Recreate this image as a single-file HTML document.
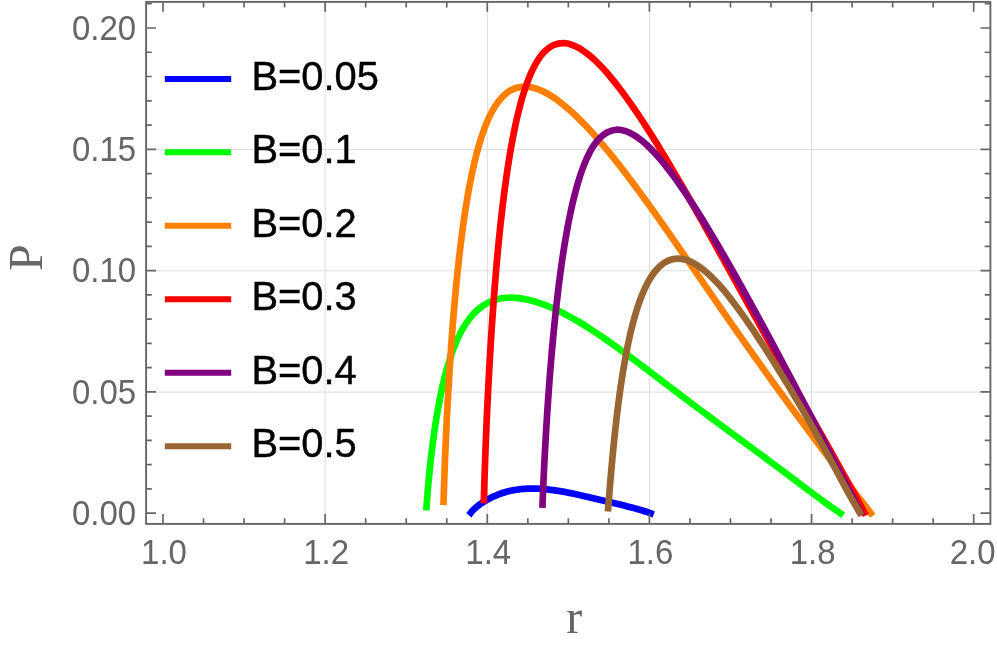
<!DOCTYPE html>
<html><head><meta charset="utf-8"><title>P(r)</title>
<style>html,body{margin:0;padding:0;background:#fff}body{width:997px;height:645px;overflow:hidden}svg{display:block;will-change:transform}.s{font-family:"Liberation Sans",sans-serif}.f{font-family:"Liberation Serif",serif}</style></head><body>
<svg width="997" height="645" viewBox="0 0 997 645">
<rect width="997" height="645" fill="#fff"/>
<g stroke="#dcdcdc" stroke-width="1" fill="none">
<path d="M325.14 1.90V523.90"/>
<path d="M487.28 1.90V523.90"/>
<path d="M649.42 1.90V523.90"/>
<path d="M811.56 1.90V523.90"/>
<path d="M146.10 392.10H990.40"/>
<path d="M146.10 270.80H990.40"/>
<path d="M146.10 149.50H990.40"/>
</g>
<g fill="none" stroke-width="6.70" stroke-linejoin="round" stroke-linecap="butt">
<path stroke="#0000ff" d="M468.77 515.30C469.25 514.75 469.76 514.22 470.21 513.64C470.66 513.06 471.01 512.41 471.46 511.84C471.92 511.27 472.42 510.73 472.92 510.20C473.43 509.67 473.97 509.16 474.51 508.67C475.05 508.17 475.60 507.69 476.16 507.22C476.72 506.75 477.30 506.29 477.88 505.84C478.45 505.39 479.04 504.95 479.64 504.52C480.23 504.09 480.83 503.67 481.44 503.26C482.04 502.85 482.66 502.44 483.28 502.05C483.89 501.65 484.52 501.27 485.15 500.89C485.78 500.51 486.41 500.14 487.05 499.78C487.69 499.42 488.33 499.07 488.98 498.73C489.63 498.39 490.28 498.05 490.94 497.73C491.59 497.40 492.26 497.08 492.92 496.78C493.59 496.47 494.26 496.17 494.93 495.88C495.60 495.58 496.28 495.30 496.96 495.03C497.64 494.75 498.32 494.49 499.01 494.23C499.70 493.98 500.39 493.73 501.08 493.49C501.77 493.25 502.47 493.02 503.17 492.80C503.87 492.58 504.57 492.37 505.28 492.17C505.98 491.96 506.69 491.77 507.40 491.59C508.11 491.40 508.82 491.22 509.53 491.06C510.25 490.89 510.96 490.73 511.68 490.58C512.40 490.43 513.12 490.29 513.84 490.16C514.56 490.02 515.29 489.90 516.01 489.79C516.73 489.67 517.46 489.56 518.19 489.47C518.91 489.37 519.64 489.28 520.37 489.19C521.10 489.11 521.83 489.04 522.56 488.97C523.29 488.91 524.02 488.85 524.75 488.80C525.48 488.75 526.22 488.71 526.95 488.67C527.68 488.64 528.41 488.61 529.15 488.59C529.88 488.57 530.61 488.55 531.35 488.55C532.08 488.54 532.81 488.54 533.55 488.55C534.28 488.55 535.01 488.57 535.75 488.59C536.48 488.61 537.21 488.63 537.95 488.67C538.68 488.70 539.41 488.74 540.14 488.78C540.88 488.82 541.61 488.87 542.34 488.93C543.07 488.98 543.80 489.04 544.53 489.11C545.26 489.17 545.99 489.24 546.72 489.32C547.45 489.39 548.18 489.47 548.91 489.55C549.64 489.64 550.37 489.73 551.09 489.82C551.82 489.91 552.55 490.01 553.27 490.11C554.00 490.21 554.73 490.31 555.45 490.42C556.18 490.53 556.90 490.64 557.63 490.76C558.35 490.87 559.07 490.99 559.80 491.11C560.52 491.23 561.24 491.36 561.97 491.48C562.69 491.61 563.41 491.74 564.13 491.87C564.85 492.01 565.57 492.14 566.29 492.28C567.01 492.41 567.73 492.55 568.45 492.70C569.17 492.84 569.89 492.98 570.61 493.13C571.33 493.27 572.05 493.42 572.77 493.57C573.48 493.72 574.20 493.87 574.92 494.02C575.64 494.17 576.35 494.33 577.07 494.48C577.79 494.64 578.50 494.79 579.22 494.95C579.94 495.11 580.65 495.27 581.37 495.43C582.08 495.59 582.80 495.75 583.52 495.91C584.23 496.07 584.95 496.24 585.66 496.40C586.38 496.56 587.09 496.73 587.81 496.89C588.52 497.06 589.23 497.22 589.95 497.39C590.66 497.55 591.38 497.72 592.09 497.89C592.81 498.05 593.52 498.22 594.23 498.39C594.95 498.55 595.66 498.72 596.38 498.89C597.09 499.06 597.80 499.23 598.52 499.40C599.23 499.56 599.94 499.73 600.66 499.90C601.37 500.07 602.09 500.24 602.80 500.41C603.51 500.58 604.23 500.75 604.94 500.92C605.65 501.09 606.37 501.26 607.08 501.43C607.79 501.60 608.51 501.77 609.22 501.94C609.93 502.11 610.65 502.29 611.36 502.46C612.07 502.63 612.78 502.80 613.50 502.97C614.21 503.14 614.92 503.32 615.64 503.49C616.35 503.66 617.06 503.84 617.77 504.01C618.49 504.18 619.20 504.36 619.91 504.53C620.62 504.71 621.33 504.88 622.05 505.06C622.76 505.24 623.47 505.42 624.18 505.59C624.89 505.77 625.60 505.95 626.31 506.13C627.03 506.31 627.74 506.49 628.45 506.68C629.16 506.86 629.87 507.05 630.58 507.23C631.28 507.42 631.99 507.60 632.70 507.79C633.41 507.98 634.12 508.17 634.83 508.37C635.53 508.56 636.24 508.76 636.95 508.95C637.65 509.15 638.36 509.35 639.06 509.55C639.77 509.76 640.47 509.96 641.18 510.17C641.88 510.38 642.58 510.59 643.28 510.80C643.98 511.02 644.69 511.23 645.38 511.45C646.08 511.68 646.78 511.90 647.48 512.13C648.18 512.36 648.87 512.59 649.57 512.82C650.26 513.06 650.95 513.30 651.64 513.55C652.34 513.79 653.02 514.05 653.71 514.30"/>
<path stroke="#00ff00" d="M426.31 510.39C426.47 507.97 426.62 505.55 426.79 503.13C426.96 500.71 427.15 498.29 427.34 495.88C427.53 493.46 427.72 491.04 427.93 488.63C428.13 486.21 428.35 483.79 428.57 481.38C428.79 478.97 429.02 476.55 429.26 474.14C429.49 471.72 429.74 469.31 429.99 466.90C430.24 464.49 430.50 462.08 430.77 459.67C431.04 457.26 431.32 454.85 431.61 452.44C431.90 450.03 432.19 447.63 432.50 445.22C432.81 442.82 433.12 440.41 433.45 438.01C433.78 435.61 434.11 433.20 434.46 430.80C434.81 428.40 435.17 426.01 435.54 423.61C435.91 421.21 436.29 418.82 436.69 416.43C437.08 414.03 437.49 411.64 437.92 409.26C438.34 406.87 438.78 404.48 439.24 402.10C439.69 399.72 440.16 397.34 440.65 394.97C441.14 392.59 441.65 390.22 442.18 387.85C442.70 385.49 443.25 383.12 443.82 380.77C444.39 378.41 444.98 376.06 445.60 373.71C446.22 371.37 446.86 369.03 447.54 366.70C448.21 364.37 448.91 362.05 449.65 359.74C450.39 357.43 451.16 355.13 451.97 352.85C452.79 350.56 453.63 348.29 454.53 346.04C455.43 343.79 456.37 341.55 457.38 339.34C458.38 337.13 459.43 334.94 460.55 332.80C461.67 330.65 462.85 328.52 464.12 326.46C465.39 324.39 466.72 322.36 468.15 320.41C469.59 318.45 471.10 316.54 472.72 314.75C474.35 312.96 476.07 311.23 477.90 309.65C479.73 308.07 481.67 306.58 483.71 305.27C485.74 303.97 487.89 302.79 490.10 301.81C492.30 300.83 494.62 300.02 496.95 299.39C499.28 298.76 501.69 298.32 504.09 298.02C506.49 297.73 508.93 297.62 511.35 297.63C513.77 297.64 516.20 297.81 518.61 298.07C521.01 298.33 523.41 298.73 525.79 299.20C528.17 299.67 530.53 300.26 532.86 300.90C535.20 301.54 537.52 302.27 539.81 303.05C542.10 303.83 544.38 304.69 546.63 305.58C548.88 306.48 551.11 307.43 553.33 308.42C555.54 309.41 557.73 310.45 559.91 311.52C562.08 312.59 564.24 313.71 566.38 314.84C568.52 315.98 570.65 317.15 572.76 318.34C574.87 319.54 576.96 320.76 579.04 322.00C581.13 323.25 583.20 324.51 585.25 325.80C587.31 327.08 589.35 328.38 591.39 329.70C593.43 331.02 595.45 332.36 597.47 333.70C599.48 335.05 601.49 336.41 603.48 337.79C605.48 339.16 607.47 340.55 609.46 341.94C611.44 343.34 613.42 344.74 615.39 346.16C617.36 347.57 619.32 348.99 621.28 350.42C623.24 351.84 625.20 353.28 627.15 354.72C629.10 356.16 631.05 357.60 632.99 359.05C634.94 360.50 636.88 361.96 638.82 363.41C640.76 364.87 642.69 366.33 644.63 367.79C646.56 369.25 648.50 370.72 650.43 372.18C652.36 373.65 654.29 375.11 656.22 376.58C658.15 378.05 660.08 379.51 662.01 380.98C663.94 382.45 665.87 383.92 667.80 385.39C669.74 386.85 671.67 388.32 673.60 389.79C675.53 391.25 677.46 392.72 679.40 394.18C681.33 395.64 683.26 397.11 685.20 398.57C687.13 400.03 689.07 401.49 691.01 402.95C692.95 404.40 694.89 405.86 696.83 407.31C698.77 408.77 700.71 410.22 702.65 411.67C704.60 413.12 706.54 414.57 708.49 416.02C710.43 417.46 712.38 418.91 714.33 420.35C716.27 421.80 718.22 423.24 720.17 424.68C722.12 426.12 724.07 427.56 726.03 429.00C727.98 430.44 729.93 431.88 731.88 433.32C733.83 434.76 735.79 436.20 737.74 437.63C739.69 439.07 741.65 440.51 743.60 441.95C745.55 443.38 747.50 444.82 749.46 446.26C751.41 447.70 753.36 449.14 755.31 450.58C757.26 452.02 759.21 453.46 761.16 454.90C763.11 456.34 765.06 457.79 767.01 459.23C768.96 460.68 770.90 462.12 772.85 463.57C774.79 465.02 776.74 466.47 778.68 467.92C780.62 469.37 782.56 470.82 784.51 472.28C786.45 473.73 788.39 475.18 790.33 476.64C792.27 478.09 794.20 479.55 796.14 481.01C798.08 482.46 800.02 483.92 801.96 485.38C803.90 486.83 805.84 488.29 807.78 489.74C809.72 491.19 811.67 492.64 813.61 494.09C815.56 495.54 817.51 496.98 819.46 498.42C821.41 499.86 823.37 501.29 825.33 502.71C827.30 504.13 829.26 505.55 831.24 506.95C833.22 508.35 835.21 509.75 837.20 511.12C839.20 512.49 841.23 513.83 843.24 515.19"/>
<path stroke="#ff8000" d="M443.46 505.17C443.57 501.42 443.67 497.68 443.78 493.93C443.90 490.18 444.02 486.44 444.15 482.69C444.27 478.95 444.41 475.20 444.54 471.46C444.68 467.71 444.83 463.97 444.97 460.22C445.12 456.48 445.28 452.74 445.43 448.99C445.59 445.25 445.76 441.50 445.93 437.76C446.10 434.02 446.27 430.27 446.45 426.53C446.63 422.79 446.81 419.04 447.00 415.30C447.19 411.56 447.39 407.82 447.59 404.07C447.79 400.33 448.00 396.59 448.21 392.85C448.42 389.11 448.64 385.37 448.86 381.62C449.08 377.88 449.31 374.14 449.55 370.40C449.79 366.66 450.03 362.92 450.28 359.18C450.53 355.45 450.78 351.71 451.05 347.97C451.31 344.23 451.58 340.49 451.86 336.76C452.13 333.02 452.42 329.28 452.71 325.55C453.01 321.81 453.31 318.07 453.62 314.34C453.93 310.60 454.25 306.87 454.57 303.14C454.90 299.40 455.24 295.67 455.59 291.94C455.94 288.21 456.29 284.48 456.66 280.75C457.03 277.02 457.41 273.29 457.81 269.57C458.20 265.84 458.61 262.11 459.03 258.39C459.45 254.67 459.88 250.94 460.33 247.22C460.77 243.50 461.24 239.78 461.72 236.07C462.20 232.35 462.70 228.64 463.21 224.92C463.73 221.21 464.26 217.50 464.82 213.80C465.38 210.09 465.96 206.39 466.57 202.69C467.17 198.99 467.80 195.30 468.46 191.61C469.13 187.92 469.81 184.24 470.54 180.56C471.27 176.89 472.02 173.21 472.83 169.56C473.63 165.90 474.47 162.24 475.37 158.60C476.27 154.97 477.21 151.34 478.23 147.73C479.25 144.13 480.31 140.53 481.48 136.97C482.65 133.41 483.88 129.86 485.25 126.38C486.62 122.89 488.06 119.42 489.70 116.06C491.35 112.70 493.09 109.35 495.13 106.22C497.17 103.10 499.35 99.96 501.94 97.30C504.53 94.65 507.45 92.04 510.68 90.29C513.90 88.54 517.66 87.27 521.29 86.81C524.92 86.35 528.83 86.80 532.45 87.55C536.07 88.31 539.62 89.79 543.01 91.35C546.40 92.91 549.63 94.89 552.77 96.91C555.91 98.94 558.92 101.21 561.86 103.52C564.81 105.83 567.65 108.29 570.44 110.78C573.23 113.28 575.94 115.87 578.62 118.50C581.29 121.12 583.90 123.82 586.47 126.54C589.05 129.26 591.57 132.03 594.07 134.82C596.57 137.62 599.02 140.45 601.45 143.30C603.89 146.15 606.28 149.03 608.66 151.93C611.04 154.83 613.38 157.75 615.72 160.68C618.05 163.62 620.35 166.57 622.65 169.54C624.94 172.50 627.21 175.48 629.47 178.47C631.72 181.46 633.97 184.47 636.20 187.48C638.43 190.49 640.64 193.51 642.85 196.54C645.05 199.57 647.25 202.61 649.43 205.65C651.62 208.70 653.79 211.75 655.96 214.80C658.13 217.86 660.29 220.92 662.45 223.99C664.61 227.05 666.75 230.12 668.90 233.20C671.04 236.27 673.18 239.35 675.32 242.42C677.46 245.50 679.59 248.58 681.72 251.67C683.85 254.75 685.98 257.84 688.10 260.92C690.23 264.01 692.35 267.09 694.48 270.18C696.60 273.27 698.73 276.36 700.85 279.44C702.98 282.53 705.10 285.62 707.23 288.70C709.35 291.79 711.48 294.88 713.61 297.96C715.73 301.04 717.86 304.13 720.00 307.21C722.13 310.29 724.26 313.37 726.40 316.45C728.54 319.53 730.68 322.60 732.82 325.68C734.97 328.75 737.11 331.82 739.27 334.89C741.42 337.96 743.57 341.03 745.73 344.09C747.89 347.15 750.05 350.21 752.22 353.27C754.38 356.33 756.55 359.38 758.73 362.43C760.90 365.49 763.08 368.53 765.27 371.58C767.45 374.63 769.64 377.67 771.83 380.71C774.02 383.75 776.22 386.78 778.42 389.82C780.62 392.85 782.83 395.88 785.04 398.91C787.24 401.93 789.46 404.96 791.67 407.98C793.89 411.00 796.11 414.02 798.34 417.04C800.56 420.05 802.79 423.06 805.02 426.08C807.25 429.09 809.49 432.10 811.72 435.10C813.96 438.11 816.20 441.11 818.44 444.11C820.69 447.12 822.93 450.11 825.18 453.11C827.43 456.11 829.68 459.11 831.94 462.10C834.19 465.09 836.45 468.09 838.71 471.08C840.97 474.07 843.23 477.05 845.49 480.04C847.76 483.03 850.02 486.01 852.29 488.99C854.56 491.97 856.84 494.95 859.11 497.93C861.39 500.90 863.67 503.88 865.96 506.85C868.24 509.82 870.54 512.78 872.83 515.75"/>
<path stroke="#ff0000" d="M483.82 503.29C483.92 499.36 484.02 495.44 484.13 491.51C484.24 487.59 484.35 483.66 484.48 479.74C484.60 475.81 484.73 471.89 484.86 467.96C484.99 464.04 485.13 460.11 485.27 456.19C485.42 452.26 485.56 448.34 485.72 444.42C485.87 440.49 486.03 436.57 486.19 432.65C486.35 428.72 486.52 424.80 486.69 420.88C486.86 416.95 487.04 413.03 487.22 409.11C487.40 405.18 487.59 401.26 487.78 397.34C487.97 393.42 488.17 389.50 488.37 385.57C488.57 381.65 488.78 377.73 488.99 373.81C489.21 369.89 489.42 365.97 489.65 362.05C489.87 358.13 490.10 354.21 490.34 350.29C490.57 346.37 490.81 342.45 491.06 338.53C491.31 334.61 491.56 330.69 491.82 326.77C492.09 322.86 492.35 318.94 492.63 315.02C492.90 311.10 493.18 307.19 493.47 303.27C493.76 299.35 494.06 295.44 494.36 291.52C494.67 287.61 494.98 283.69 495.30 279.78C495.62 275.87 495.95 271.95 496.29 268.04C496.63 264.13 496.98 260.22 497.33 256.31C497.69 252.40 498.06 248.49 498.44 244.58C498.82 240.67 499.21 236.76 499.62 232.86C500.02 228.95 500.43 225.05 500.86 221.14C501.29 217.24 501.73 213.34 502.19 209.44C502.65 205.54 503.12 201.64 503.61 197.74C504.10 193.85 504.60 189.95 505.12 186.06C505.65 182.17 506.19 178.28 506.76 174.39C507.32 170.51 507.91 166.62 508.52 162.74C509.13 158.87 509.76 154.99 510.43 151.12C511.09 147.25 511.78 143.38 512.51 139.53C513.24 135.67 514.00 131.81 514.80 127.97C515.61 124.13 516.45 120.29 517.35 116.47C518.24 112.64 519.18 108.83 520.20 105.04C521.21 101.24 522.27 97.46 523.44 93.71C524.60 89.96 525.82 86.23 527.19 82.55C528.57 78.87 530.00 75.20 531.66 71.65C533.32 68.10 535.06 64.54 537.17 61.24C539.27 57.95 541.50 54.58 544.27 51.87C547.03 49.17 550.25 46.44 553.75 45.01C557.25 43.58 561.49 42.99 565.27 43.28C569.06 43.56 572.94 45.12 576.46 46.74C579.99 48.36 583.26 50.70 586.41 53.02C589.56 55.34 592.49 58.00 595.35 60.68C598.22 63.36 600.93 66.22 603.59 69.10C606.25 71.99 608.80 74.98 611.31 78.00C613.82 81.02 616.25 84.10 618.65 87.21C621.05 90.32 623.38 93.48 625.69 96.65C628.00 99.83 630.27 103.04 632.50 106.26C634.74 109.49 636.94 112.74 639.12 116.01C641.30 119.27 643.45 122.56 645.59 125.86C647.72 129.16 649.83 132.47 651.92 135.79C654.01 139.12 656.08 142.45 658.14 145.80C660.20 149.14 662.24 152.50 664.27 155.86C666.30 159.22 668.31 162.59 670.31 165.97C672.32 169.34 674.31 172.73 676.29 176.12C678.28 179.51 680.25 182.90 682.22 186.30C684.18 189.70 686.14 193.11 688.09 196.51C690.04 199.92 691.98 203.33 693.92 206.75C695.86 210.17 697.79 213.58 699.72 217.01C701.65 220.43 703.57 223.85 705.49 227.28C707.41 230.70 709.32 234.13 711.23 237.56C713.15 240.99 715.05 244.42 716.96 247.85C718.87 251.29 720.77 254.72 722.68 258.16C724.58 261.59 726.48 265.03 728.38 268.46C730.29 271.90 732.18 275.33 734.09 278.77C735.99 282.21 737.88 285.64 739.78 289.08C741.69 292.52 743.59 295.95 745.49 299.39C747.39 302.83 749.29 306.26 751.19 309.70C753.09 313.13 755.00 316.57 756.90 320.00C758.81 323.43 760.71 326.87 762.62 330.30C764.53 333.73 766.44 337.16 768.35 340.59C770.26 344.02 772.18 347.45 774.09 350.88C776.01 354.31 777.93 357.73 779.85 361.16C781.77 364.59 783.69 368.01 785.61 371.43C787.53 374.86 789.46 378.28 791.38 381.70C793.31 385.12 795.24 388.54 797.17 391.97C799.10 395.39 801.03 398.80 802.96 402.22C804.89 405.64 806.83 409.06 808.76 412.48C810.69 415.90 812.63 419.31 814.56 422.73C816.49 426.15 818.42 429.57 820.36 432.99C822.29 436.41 824.22 439.83 826.15 443.25C828.07 446.67 830.00 450.09 831.93 453.51C833.85 456.94 835.77 460.36 837.68 463.79C839.60 467.22 841.51 470.65 843.42 474.08C845.33 477.51 847.23 480.95 849.12 484.39C851.01 487.83 852.90 491.27 854.78 494.72C856.66 498.17 858.53 501.62 860.39 505.08C862.25 508.54 864.09 512.01 865.95 515.47"/>
<path stroke="#800080" d="M542.42 507.78C542.53 504.56 542.64 501.34 542.77 498.11C542.89 494.89 543.03 491.67 543.16 488.45C543.30 485.23 543.44 482.00 543.59 478.78C543.73 475.56 543.88 472.34 544.04 469.12C544.20 465.90 544.36 462.68 544.52 459.46C544.69 456.24 544.86 453.02 545.03 449.80C545.21 446.58 545.38 443.36 545.57 440.14C545.75 436.92 545.94 433.70 546.13 430.48C546.32 427.26 546.52 424.04 546.72 420.82C546.92 417.60 547.13 414.38 547.34 411.17C547.55 407.95 547.77 404.73 547.99 401.51C548.21 398.30 548.44 395.08 548.67 391.86C548.90 388.65 549.14 385.43 549.38 382.22C549.62 379.00 549.87 375.79 550.12 372.57C550.38 369.36 550.64 366.14 550.90 362.93C551.17 359.71 551.44 356.50 551.72 353.29C552.00 350.07 552.28 346.86 552.57 343.65C552.87 340.44 553.17 337.23 553.47 334.02C553.78 330.81 554.09 327.60 554.41 324.39C554.74 321.18 555.07 317.97 555.40 314.77C555.74 311.56 556.09 308.35 556.45 305.15C556.80 301.94 557.17 298.74 557.55 295.54C557.92 292.33 558.31 289.13 558.71 285.93C559.10 282.73 559.51 279.53 559.93 276.34C560.35 273.14 560.79 269.94 561.23 266.75C561.68 263.56 562.14 260.36 562.61 257.17C563.09 253.99 563.58 250.80 564.09 247.61C564.60 244.43 565.12 241.25 565.66 238.07C566.21 234.89 566.77 231.71 567.35 228.54C567.94 225.37 568.55 222.20 569.18 219.04C569.81 215.88 570.47 212.72 571.16 209.57C571.85 206.42 572.56 203.28 573.32 200.14C574.08 197.01 574.86 193.88 575.70 190.77C576.54 187.65 577.41 184.55 578.34 181.46C579.28 178.38 580.26 175.30 581.32 172.26C582.38 169.21 583.50 166.18 584.72 163.20C585.95 160.22 587.24 157.26 588.70 154.39C590.16 151.51 591.69 148.65 593.48 145.98C595.26 143.31 597.16 140.62 599.41 138.36C601.66 136.10 604.19 133.84 606.99 132.41C609.79 130.98 613.09 129.97 616.21 129.76C619.34 129.55 622.69 130.24 625.73 131.17C628.77 132.10 631.67 133.71 634.43 135.34C637.19 136.98 639.76 138.98 642.27 141.00C644.77 143.03 647.13 145.24 649.44 147.49C651.75 149.74 653.96 152.10 656.13 154.48C658.29 156.87 660.38 159.33 662.44 161.81C664.50 164.29 666.50 166.82 668.47 169.37C670.45 171.92 672.38 174.51 674.28 177.11C676.18 179.71 678.05 182.34 679.90 184.98C681.75 187.62 683.57 190.29 685.37 192.96C687.17 195.64 688.95 198.33 690.71 201.03C692.48 203.73 694.22 206.44 695.95 209.16C697.68 211.88 699.39 214.62 701.09 217.35C702.80 220.09 704.48 222.84 706.16 225.60C707.84 228.35 709.50 231.11 711.15 233.88C712.81 236.65 714.45 239.42 716.09 242.20C717.72 244.98 719.35 247.77 720.97 250.56C722.59 253.34 724.20 256.14 725.81 258.94C727.41 261.73 729.01 264.53 730.60 267.34C732.19 270.14 733.78 272.95 735.36 275.76C736.94 278.57 738.51 281.39 740.08 284.21C741.65 287.02 743.21 289.84 744.77 292.66C746.33 295.49 747.89 298.31 749.44 301.14C750.99 303.96 752.54 306.79 754.09 309.62C755.63 312.46 757.17 315.29 758.71 318.12C760.25 320.96 761.78 323.79 763.31 326.63C764.84 329.47 766.37 332.31 767.90 335.15C769.42 337.99 770.95 340.83 772.47 343.68C773.99 346.52 775.51 349.36 777.03 352.21C778.54 355.06 780.06 357.90 781.57 360.75C783.08 363.60 784.59 366.45 786.10 369.30C787.61 372.15 789.12 375.00 790.62 377.85C792.13 380.70 793.63 383.56 795.13 386.41C796.63 389.27 798.13 392.12 799.63 394.98C801.13 397.83 802.63 400.69 804.12 403.54C805.62 406.40 807.11 409.26 808.61 412.12C810.10 414.97 811.59 417.83 813.08 420.69C814.57 423.55 816.06 426.41 817.55 429.27C819.04 432.14 820.52 435.00 822.01 437.86C823.49 440.72 824.98 443.58 826.46 446.45C827.95 449.31 829.43 452.17 830.91 455.04C832.39 457.90 833.87 460.77 835.35 463.63C836.83 466.50 838.31 469.37 839.78 472.23C841.26 475.10 842.74 477.97 844.21 480.83C845.68 483.70 847.16 486.57 848.63 489.44C850.10 492.31 851.58 495.18 853.05 498.05C854.52 500.92 855.99 503.79 857.46 506.66C858.93 509.53 860.39 512.40 861.86 515.27"/>
<path stroke="#996633" d="M607.90 511.60C608.08 509.38 608.26 507.15 608.44 504.93C608.62 502.71 608.79 500.49 608.97 498.26C609.14 496.04 609.32 493.82 609.50 491.60C609.68 489.37 609.86 487.15 610.04 484.93C610.23 482.71 610.41 480.48 610.60 478.26C610.79 476.04 610.98 473.82 611.18 471.60C611.37 469.38 611.57 467.16 611.77 464.94C611.97 462.71 612.18 460.49 612.38 458.27C612.59 456.05 612.80 453.84 613.02 451.62C613.23 449.40 613.45 447.18 613.67 444.96C613.90 442.74 614.12 440.52 614.35 438.30C614.59 436.09 614.82 433.87 615.06 431.65C615.30 429.44 615.55 427.22 615.80 425.00C616.05 422.79 616.30 420.57 616.56 418.36C616.82 416.14 617.08 413.93 617.35 411.72C617.63 409.50 617.90 407.29 618.18 405.08C618.47 402.87 618.75 400.66 619.05 398.45C619.35 396.24 619.65 394.03 619.96 391.82C620.26 389.61 620.58 387.40 620.90 385.20C621.23 382.99 621.56 380.79 621.90 378.58C622.24 376.38 622.59 374.18 622.94 371.98C623.30 369.78 623.67 367.58 624.04 365.38C624.42 363.18 624.81 360.99 625.21 358.79C625.60 356.60 626.01 354.41 626.43 352.22C626.86 350.03 627.29 347.84 627.74 345.66C628.18 343.47 628.64 341.29 629.12 339.11C629.60 336.93 630.09 334.76 630.60 332.59C631.11 330.42 631.64 328.25 632.19 326.09C632.73 323.93 633.30 321.77 633.89 319.62C634.48 317.47 635.09 315.33 635.73 313.19C636.37 311.06 637.03 308.93 637.73 306.81C638.43 304.69 639.15 302.58 639.92 300.49C640.69 298.40 641.48 296.31 642.33 294.25C643.18 292.19 644.07 290.14 645.01 288.12C645.96 286.11 646.95 284.10 648.03 282.15C649.10 280.20 650.22 278.26 651.45 276.40C652.67 274.55 653.97 272.71 655.39 271.00C656.81 269.29 658.32 267.62 659.97 266.14C661.63 264.67 663.42 263.26 665.33 262.16C667.25 261.06 669.34 260.11 671.46 259.53C673.59 258.95 675.87 258.66 678.07 258.66C680.28 258.67 682.54 259.03 684.69 259.56C686.83 260.09 688.94 260.92 690.97 261.83C692.99 262.75 694.94 263.87 696.83 265.05C698.71 266.23 700.53 267.54 702.30 268.90C704.06 270.25 705.77 271.70 707.43 273.18C709.10 274.65 710.72 276.20 712.30 277.76C713.89 279.33 715.43 280.94 716.95 282.57C718.47 284.21 719.95 285.87 721.41 287.55C722.88 289.24 724.31 290.94 725.73 292.67C727.15 294.39 728.54 296.13 729.92 297.88C731.30 299.63 732.65 301.40 734.00 303.18C735.35 304.95 736.68 306.75 738.00 308.54C739.32 310.34 740.62 312.15 741.92 313.96C743.21 315.78 744.50 317.60 745.77 319.43C747.05 321.26 748.31 323.09 749.57 324.93C750.83 326.77 752.08 328.62 753.32 330.47C754.57 332.32 755.80 334.18 757.03 336.04C758.26 337.90 759.49 339.76 760.71 341.63C761.93 343.49 763.14 345.36 764.35 347.24C765.56 349.11 766.76 350.99 767.96 352.87C769.16 354.75 770.35 356.63 771.55 358.52C772.74 360.40 773.92 362.29 775.10 364.18C776.29 366.07 777.46 367.96 778.64 369.86C779.81 371.75 780.98 373.65 782.15 375.55C783.32 377.45 784.48 379.36 785.64 381.26C786.79 383.17 787.95 385.07 789.10 386.98C790.25 388.89 791.40 390.80 792.54 392.72C793.68 394.63 794.82 396.55 795.96 398.47C797.09 400.39 798.22 402.31 799.35 404.23C800.48 406.16 801.60 408.08 802.72 410.01C803.84 411.94 804.95 413.87 806.06 415.81C807.17 417.74 808.28 419.68 809.38 421.62C810.48 423.55 811.58 425.49 812.67 427.44C813.77 429.38 814.86 431.32 815.94 433.27C817.03 435.22 818.11 437.17 819.19 439.12C820.27 441.07 821.35 443.02 822.42 444.98C823.49 446.93 824.56 448.89 825.63 450.85C826.70 452.80 827.76 454.76 828.82 456.72C829.89 458.68 830.95 460.65 832.00 462.61C833.06 464.57 834.12 466.53 835.18 468.50C836.24 470.46 837.29 472.42 838.35 474.39C839.41 476.35 840.46 478.31 841.52 480.27C842.59 482.23 843.65 484.20 844.71 486.15C845.78 488.11 846.85 490.07 847.92 492.02C849.00 493.97 850.08 495.93 851.17 497.87C852.26 499.82 853.35 501.76 854.47 503.69C855.58 505.62 856.69 507.55 857.83 509.47C858.97 511.39 860.14 513.28 861.30 515.19"/>
</g>
<g stroke="#666666" fill="none">
<rect x="146.10" y="1.90" width="844.30" height="522.00" stroke-width="1.9"/>
<path d="M163.00 523.90v-9.90M163.00 1.90v9.90M203.54 523.90v-5.70M203.54 1.90v5.70M244.07 523.90v-5.70M244.07 1.90v5.70M284.60 523.90v-5.70M284.60 1.90v5.70M325.14 523.90v-9.90M325.14 1.90v9.90M365.68 523.90v-5.70M365.68 1.90v5.70M406.21 523.90v-5.70M406.21 1.90v5.70M446.75 523.90v-5.70M446.75 1.90v5.70M487.28 523.90v-9.90M487.28 1.90v9.90M527.82 523.90v-5.70M527.82 1.90v5.70M568.35 523.90v-5.70M568.35 1.90v5.70M608.88 523.90v-5.70M608.88 1.90v5.70M649.42 523.90v-9.90M649.42 1.90v9.90M689.95 523.90v-5.70M689.95 1.90v5.70M730.49 523.90v-5.70M730.49 1.90v5.70M771.03 523.90v-5.70M771.03 1.90v5.70M811.56 523.90v-9.90M811.56 1.90v9.90M852.10 523.90v-5.70M852.10 1.90v5.70M892.63 523.90v-5.70M892.63 1.90v5.70M933.17 523.90v-5.70M933.17 1.90v5.70M973.70 523.90v-9.90M973.70 1.90v9.90M146.10 513.20h9.90M990.40 513.20h-9.90M146.10 488.94h5.70M990.40 488.94h-5.70M146.10 464.68h5.70M990.40 464.68h-5.70M146.10 440.42h5.70M990.40 440.42h-5.70M146.10 416.16h5.70M990.40 416.16h-5.70M146.10 391.90h9.90M990.40 391.90h-9.90M146.10 367.64h5.70M990.40 367.64h-5.70M146.10 343.38h5.70M990.40 343.38h-5.70M146.10 319.12h5.70M990.40 319.12h-5.70M146.10 294.86h5.70M990.40 294.86h-5.70M146.10 270.60h9.90M990.40 270.60h-9.90M146.10 246.34h5.70M990.40 246.34h-5.70M146.10 222.08h5.70M990.40 222.08h-5.70M146.10 197.82h5.70M990.40 197.82h-5.70M146.10 173.56h5.70M990.40 173.56h-5.70M146.10 149.30h9.90M990.40 149.30h-9.90M146.10 125.04h5.70M990.40 125.04h-5.70M146.10 100.78h5.70M990.40 100.78h-5.70M146.10 76.52h5.70M990.40 76.52h-5.70M146.10 52.26h5.70M990.40 52.26h-5.70M146.10 28.00h9.90M990.40 28.00h-9.90M146.10 3.74h5.70M990.40 3.74h-5.70" stroke-width="1.70"/>
</g>
<g class="s" font-size="34.20" fill="#666666">
<text transform="translate(136.1 525.05) scale(0.965 1)" text-anchor="end">0.00</text>
<text transform="translate(136.1 403.75) scale(0.965 1)" text-anchor="end">0.05</text>
<text transform="translate(136.1 282.45) scale(0.965 1)" text-anchor="end">0.10</text>
<text transform="translate(136.1 161.15) scale(0.965 1)" text-anchor="end">0.15</text>
<text transform="translate(136.1 39.85) scale(0.965 1)" text-anchor="end">0.20</text>
<text transform="translate(164.00 564.2) scale(0.965 1)" text-anchor="middle">1.0</text>
<text transform="translate(326.14 564.2) scale(0.965 1)" text-anchor="middle">1.2</text>
<text transform="translate(488.28 564.2) scale(0.965 1)" text-anchor="middle">1.4</text>
<text transform="translate(650.42 564.2) scale(0.965 1)" text-anchor="middle">1.6</text>
<text transform="translate(812.56 564.2) scale(0.965 1)" text-anchor="middle">1.8</text>
<text transform="translate(972.60 564.2) scale(0.965 1)" text-anchor="middle">2.0</text>
</g>
<g class="f" font-size="48" fill="#666666">
<text x="574.3" y="632.7" text-anchor="middle">r</text>
<text transform="translate(41.8 257.6) rotate(-90)" text-anchor="middle">P</text>
</g>
<g stroke-width="6" fill="none">
<path stroke="#0000ff" d="M164.8 78.90H231.2"/>
<path stroke="#00ff00" d="M164.8 152.35H231.2"/>
<path stroke="#ff8000" d="M164.8 225.80H231.2"/>
<path stroke="#ff0000" d="M164.8 299.25H231.2"/>
<path stroke="#800080" d="M164.8 372.70H231.2"/>
<path stroke="#996633" d="M164.8 446.15H231.2"/>
</g>
<g class="s" font-size="39.90" fill="#000" stroke="#000" stroke-width="0.4">
<text x="251.4" y="89.90">B=0.05</text>
<text x="251.4" y="163.35">B=0.1</text>
<text x="251.4" y="236.80">B=0.2</text>
<text x="251.4" y="310.25">B=0.3</text>
<text x="251.4" y="383.70">B=0.4</text>
<text x="251.4" y="457.15">B=0.5</text>
</g>
</svg></body></html>
